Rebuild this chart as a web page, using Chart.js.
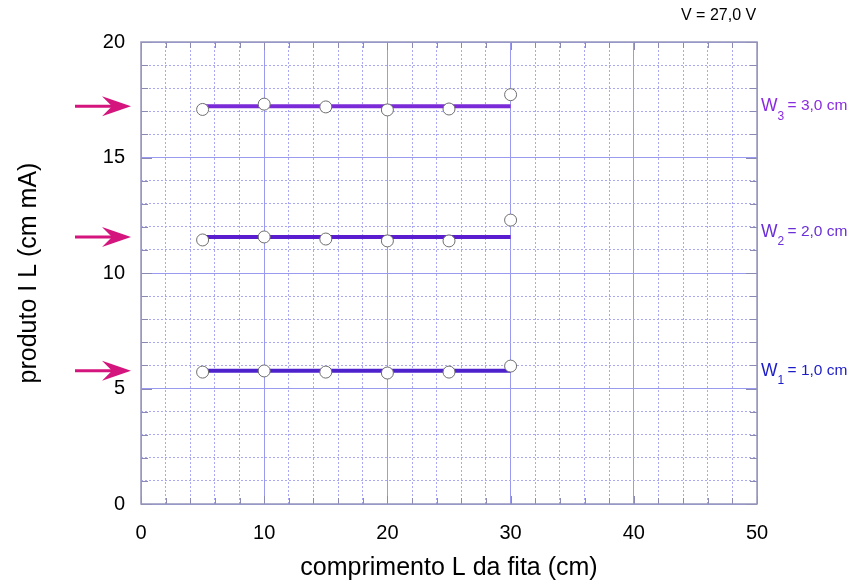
<!DOCTYPE html>
<html>
<head>
<meta charset="utf-8">
<script src="https://cdn.jsdelivr.net/npm/chart.js@4"></script>
<style>
  body { margin: 0; background: #fff; }
</style>
</head>
<body>
<canvas id="grafico" width="853" height="587"></canvas>
<script>
// dados
const comprimentos = [5, 10, 15, 20, 25, 30];
const produtoW1 = [5.71, 5.76, 5.71, 5.67, 5.71, 5.97];
const produtoW2 = [11.43, 11.56, 11.47, 11.39, 11.39, 12.29];
const produtoW3 = [17.08, 17.31, 17.19, 17.06, 17.1, 17.72];
const mediasW = [5.77, 11.56, 17.22];
const rotulosW = ['1', '2', '3'];
const valoresW = ['1,0', '2,0', '3,0'];
const coresLinha = ['#4d22cc', '#5a1ccf', '#7b2ad8'];
const coresRotulo = ['#1c1cc8', '#6a2fd8', '#8a2be2'];

function pontos(ys) {
  return comprimentos.map((x, i) => ({ x: x, y: ys[i] }));
}
function linha(m) {
  return [{ x: comprimentos[0], y: m }, { x: comprimentos[comprimentos.length - 1], y: m }];
}

const conjuntos = [];
[produtoW1, produtoW2, produtoW3].forEach((serie, k) => {
  conjuntos.push({
    data: linha(mediasW[k]),
    showLine: true,
    borderColor: coresLinha[k],
    borderWidth: 4,
    pointRadius: 0,
    order: 2
  });
  conjuntos.push({
    data: pontos(serie),
    showLine: false,
    pointRadius: 6,
    pointBackgroundColor: '#fff',
    pointBorderColor: '#6e6e6e',
    pointBorderWidth: 1,
    order: 1
  });
});

// setas, rótulos W, bordas
const extras = {
  id: 'extras',
  afterDraw(chart) {
    const c = chart.ctx;
    const ys = chart.scales.y;
    const xs = chart.scales.x;
    const a = chart.chartArea;
    c.save();
    c.setLineDash([]);
    // pequenos traços internos nas bordas
    c.strokeStyle = '#8a8ab4';
    c.lineWidth = 1;
    c.beginPath();
    for (let v = 0; v <= 20; v += 1) {
      const p = Math.round(ys.getPixelForValue(v)) + 0.5;
      const l = v % 5 === 0 ? 11 : 7;
      c.moveTo(a.left, p); c.lineTo(a.left + l, p);
      c.moveTo(a.right, p); c.lineTo(a.right - l, p);
    }
    for (let v = 0; v <= 50; v += 2) {
      const p = Math.round(xs.getPixelForValue(v)) + 0.5;
      const l = v % 10 === 0 ? 8 : 6;
      c.moveTo(p, a.top); c.lineTo(p, a.top + l);
      c.moveTo(p, a.bottom); c.lineTo(p, a.bottom - l);
    }
    c.stroke();
    c.strokeStyle = '#9696bc';
    c.lineWidth = 1.5;
    c.strokeRect(a.left, a.top, a.right - a.left, a.bottom - a.top);

    mediasW.forEach((m, k) => {
      const py = ys.getPixelForValue(m);
      // seta
      c.strokeStyle = '#d4157e';
      c.fillStyle = '#d4157e';
      c.lineWidth = 3;
      c.beginPath();
      c.moveTo(75, py);
      c.lineTo(118, py);
      c.stroke();
      c.beginPath();
      c.moveTo(131, py);
      c.lineTo(102, py - 10);
      c.lineTo(112, py);
      c.lineTo(102, py + 10);
      c.closePath();
      c.fill();
      // rótulo
      const ty = py - (k === 1 ? 5 : 0);
      const x0 = a.right + 4;
      c.fillStyle = coresRotulo[k];
      c.textBaseline = 'middle';
      c.font = '17.5px "Liberation Sans", Arial, sans-serif';
      c.fillText('W', x0, ty);
      const wW = c.measureText('W').width;
      c.font = '12px "Liberation Sans", Arial, sans-serif';
      c.fillText(rotulosW[k], x0 + wW, ty + 10);
      c.font = '15.5px "Liberation Sans", Arial, sans-serif';
      c.fillText('= ' + valoresW[k] + ' cm', x0 + wW + 10, ty);
    });
    // V = 27,0 V
    c.fillStyle = '#000';
    c.font = '16px "Liberation Sans", Arial, sans-serif';
    c.textBaseline = 'middle';
    c.fillText('V = 27,0 V', 681, 16);
    c.restore();
  }
};

const fonte = { family: '"Liberation Sans", Arial, sans-serif' };

new Chart(document.getElementById('grafico'), {
  type: 'scatter',
  data: { datasets: conjuntos },
  options: {
    responsive: false,
    animation: false,
    layout: { padding: { top: 42, right: 96, left: 0, bottom: 0 } },
    plugins: { legend: { display: false }, tooltip: { enabled: false } },
    scales: {
      x: {
        min: 0, max: 50,
        ticks: {
          stepSize: 2,
          autoSkip: false,
          maxRotation: 0,
          padding: 17,
          color: '#000',
          font: { ...fonte, size: 20 },
          callback: v => (v % 10 === 0 ? v : '')
        },
        grid: {
          drawTicks: false,
          color: ctx => (ctx.tick && ctx.tick.value % 10 === 0 ? '#9a9af0' : '#a8a8f4'),
          lineWidth: 1
        },
        border: {
          display: false,
          dash: ctx => (ctx.tick && ctx.tick.value % 10 === 0 ? [] : [2, 2])
        },
        title: {
          display: true,
          text: 'comprimento L da fita (cm)',
          color: '#000',
          font: { ...fonte, size: 25 },
          padding: { top: 4, bottom: 4 }
        },
        afterFit: s => { s.height = 83; }
      },
      y: {
        min: 0, max: 20,
        ticks: {
          stepSize: 1,
          autoSkip: false,
          padding: 16,
          color: '#000',
          font: { ...fonte, size: 20 },
          callback: v => (v % 5 === 0 ? v : '')
        },
        grid: {
          drawTicks: false,
          color: ctx => (ctx.tick && ctx.tick.value % 5 === 0 ? '#9a9af0' : '#a8a8f4'),
          lineWidth: 1
        },
        border: {
          display: false,
          dash: ctx => (ctx.tick && ctx.tick.value % 5 === 0 ? [] : [2, 2])
        },
        title: {
          display: true,
          text: 'produto I L (cm mA)',
          color: '#000',
          font: { ...fonte, size: 25 },
          padding: { top: 14, bottom: 0 }
        },
        afterFit: s => { s.width = 141; }
      }
    }
  },
  plugins: [extras]
});
</script>
</body>
</html>
